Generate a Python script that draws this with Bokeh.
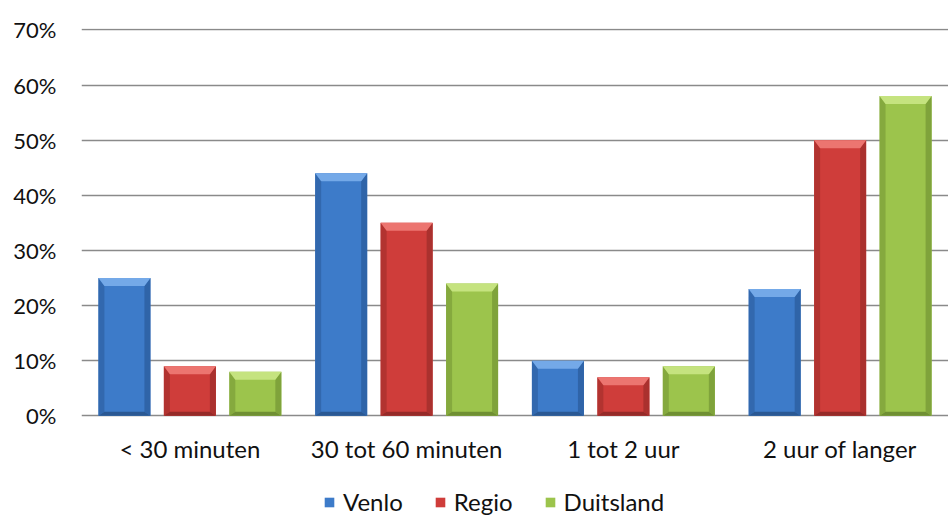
from bokeh.plotting import figure
from bokeh.models import Range1d, FixedTicker, Legend, LegendItem, PrintfTickFormatter
from bokeh.core.properties import value
from bokeh.embed import file_html
from bokeh.resources import INLINE

# Reistijd per herkomst (aandeel respondenten, %)
categories = ["< 30 minuten", "30 tot 60 minuten", "1 tot 2 uur", "2 uur of langer"]
series = ["Venlo", "Regio", "Duitsland"]
venlo = [25, 44, 10, 23]
regio = [9, 35, 7, 50]
duitsland = [8, 24, 9, 58]
y_ticks = [0, 10, 20, 30, 40, 50, 60, 70]

values = [venlo, regio, duitsland]

# body, top bevel, side bevel, bottom bevel
palette = [
    ("#3d7bc9", "#74a9e8", "#2f64a8", "#2a5893"),
    ("#cf3d3a", "#ec7570", "#aa312e", "#952a28"),
    ("#9cc44c", "#c5e37f", "#7fa33b", "#6f8f33"),
]

FONT = "Lato"

# vertical scale: pixels per percentage point; the frame runs down to the
# bottom of the page so the category labels and legend sit inside it
px_y = 5.514
frame_h = 488
y_top = 70.25
y_bottom = y_top - frame_h / px_y

p = figure(frame_width=867, frame_height=frame_h, output_backend="svg",
           toolbar_location=None, x_axis_location=None,
           x_range=Range1d(0, len(categories)), y_range=Range1d(y_bottom, y_top),
           min_border_left=81, min_border_right=0, min_border_top=28,
           min_border_bottom=0, background_fill_color="white",
           border_fill_color="white")
p.outline_line_color = None

# y axis
p.yaxis.ticker = FixedTicker(ticks=y_ticks)
p.yaxis.formatter = PrintfTickFormatter(format="%d%%")
p.yaxis.axis_line_color = None
p.yaxis.major_tick_line_color = None
p.yaxis.minor_tick_line_color = None
p.yaxis.major_label_standoff = 19
p.yaxis.major_label_text_font = FONT
p.yaxis.major_label_text_font_size = "22px"
p.yaxis.major_label_text_color = "#111111"

p.xgrid.visible = False
p.ygrid.grid_line_color = "#8a8a8a"
p.ygrid.grid_line_width = 1.6

centers = [i + 0.5 for i in range(len(categories))]

# category labels under the baseline
label_y = -(448 - 415.4) / px_y
p.text(x=centers, y=[label_y] * len(categories), text=categories,
       text_align="center", text_baseline="alphabetic",
       text_font=value(FONT), text_font_size="24px", text_color="#111111")

# bar geometry in data units
px_x = 216.75          # pixels per category
offset = 0.302
width = 0.24
bx = 6 / px_x
by = 8 / px_y

items = []
for j, (name, vals) in enumerate(zip(series, values)):
    body, top_c, side_c, bot_c = palette[j]
    xs = [c + (j - 1) * offset for c in centers]
    r = p.vbar(x=xs, top=vals, width=width, bottom=0,
               fill_color=body, line_color=None)
    items.append(LegendItem(label=name, renderers=[r]))

    tops, lefts, rights, bottoms = ([], []), ([], []), ([], []), ([], [])
    for x, v in zip(xs, vals):
        L, R = x - width / 2, x + width / 2
        tops[0].append([L, R, R - bx, L + bx]); tops[1].append([v, v, v - by, v - by])
        lefts[0].append([L, L + bx, L + bx, L]); lefts[1].append([v, v - by, by * 0.5, 0])
        rights[0].append([R, R - bx, R - bx, R]); rights[1].append([v, v - by, by * 0.5, 0])
        bottoms[0].append([L, L + bx, R - bx, R]); bottoms[1].append([0, by * 0.5, by * 0.5, 0])
    p.patches(xs=lefts[0], ys=lefts[1], fill_color=side_c, line_color=None, fill_alpha=0.8)
    p.patches(xs=rights[0], ys=rights[1], fill_color=side_c, line_color=None)
    p.patches(xs=bottoms[0], ys=bottoms[1], fill_color=bot_c, line_color=None)
    p.patches(xs=tops[0], ys=tops[1], fill_color=top_c, line_color=None)

legend = Legend(items=items, orientation="horizontal", location=(242, 0),
                glyph_width=12, glyph_height=12, label_standoff=8, spacing=31,
                label_text_font=FONT, label_text_font_size="24px",
                label_text_color="#111111", border_line_color=None,
                background_fill_alpha=0, padding=0, margin=0)
p.add_layout(legend, "center")

open("out.html", "w").write(file_html(p, INLINE))
